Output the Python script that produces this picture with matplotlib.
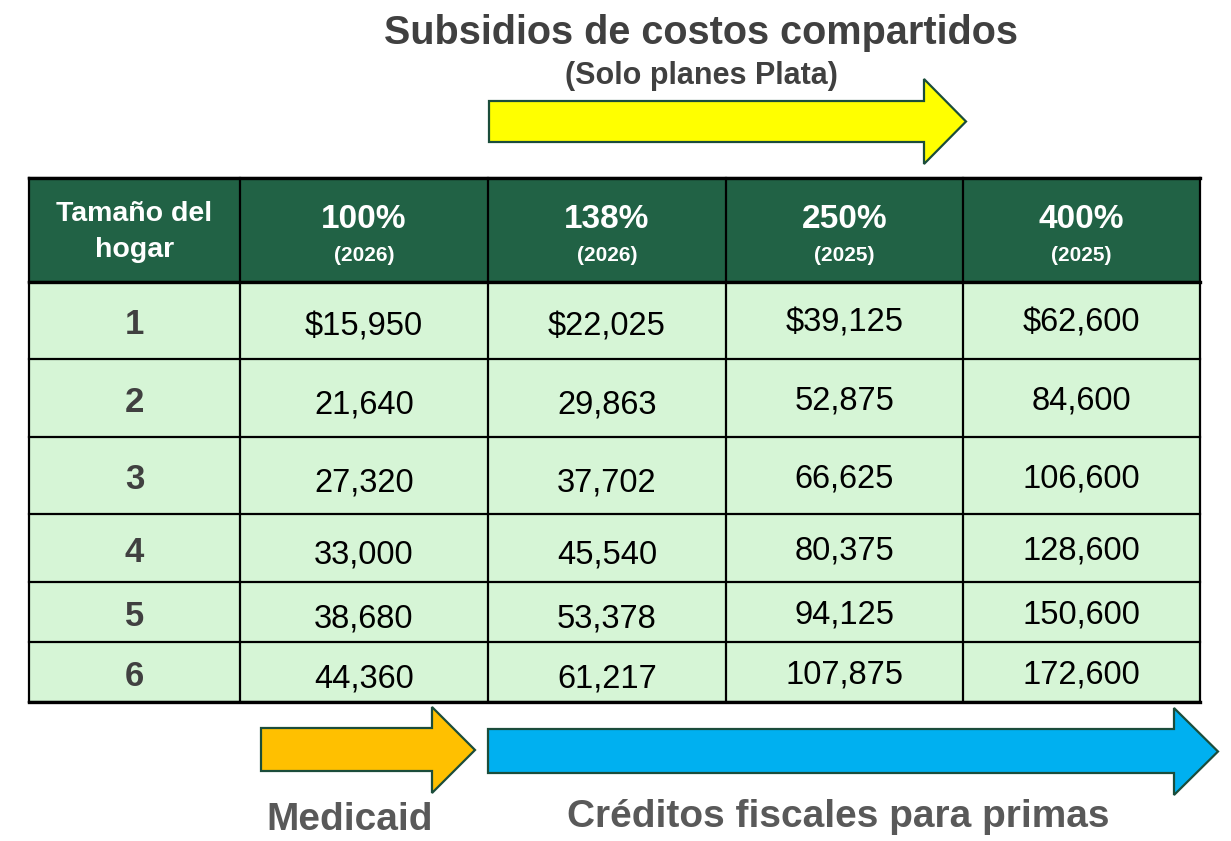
import matplotlib
matplotlib.use("Agg")
import matplotlib.pyplot as plt
from matplotlib.patches import Rectangle, Polygon

plt.rcParams['font.family'] = ['Liberation Sans', 'DejaVu Sans']

# datos ----------------------------------------------------------------
titulo = "Subsidios de costos compartidos"
subtitulo = "(Solo planes Plata)"
col0 = ["Tamaño del", "hogar"]
pct = ["100%", "138%", "250%", "400%"]
anios = ["(2026)", "(2026)", "(2025)", "(2025)"]
hogar = [1, 2, 3, 4, 5, 6]
fpl_100 = [15950, 21640, 27320, 33000, 38680, 44360]
fpl_138 = [22025, 29863, 37702, 45540, 53378, 61217]
fpl_250 = [39125, 52875, 66625, 80375, 94125, 107875]
fpl_400 = [62600, 84600, 106600, 128600, 150600, 172600]
etiq_medicaid = "Medicaid"
etiq_creditos = "Créditos fiscales para primas"

# colores
verde = '#216245'
verde_claro = '#d6f5d6'
gris = '#404040'
borde = '#1b4d3b'

W, H = 1231, 841
fig = plt.figure(figsize=(W / 100, H / 100), dpi=100)
ax = fig.add_axes([0, 0, 1, 1])
ax.set_xlim(0, W)
ax.set_ylim(H, 0)
ax.axis('off')

# geometria de la tabla (pixeles)
xs = [29, 240, 488, 726, 963, 1200]
ys = [178, 282, 359, 437, 514, 582, 642, 702]
dy_col = [4, 7, 7, 3, 3]

# encabezado y cuerpo
ax.add_patch(Rectangle((xs[0], ys[0]), xs[-1] - xs[0], ys[1] - ys[0],
                       facecolor=verde, edgecolor='none'))
ax.add_patch(Rectangle((xs[0], ys[1]), xs[-1] - xs[0], ys[-1] - ys[1],
                       facecolor=verde_claro, edgecolor='none'))

for x in xs:
    ax.plot([x, x], [ys[0], ys[-1]], color='black', lw=1.6)
for y in ys:
    ax.plot([xs[0], xs[-1]], [y, y], color='black', lw=1.6)
for y in (ys[0], ys[1], ys[-1]):
    ax.plot([xs[0], xs[-1]], [y, y], color='black', lw=2.4)

ax.text((xs[0] + xs[1]) / 2, 214, col0[0], color='white',
        fontsize=20.5, fontweight='bold', ha='center', va='center')
ax.text((xs[0] + xs[1]) / 2, 250, col0[1], color='white',
        fontsize=20.5, fontweight='bold', ha='center', va='center')
for i in range(4):
    cx = (xs[i + 1] + xs[i + 2]) / 2
    ax.text(cx, 219, pct[i], color='white', fontsize=24, fontweight='bold',
            ha='center', va='center')
    ax.text(cx, 255, anios[i], color='white', fontsize=15, fontweight='bold',
            ha='center', va='center')

columnas = [fpl_100, fpl_138, fpl_250, fpl_400]
for r in range(len(hogar)):
    cy = (ys[r + 1] + ys[r + 2]) / 2
    ax.text((xs[0] + xs[1]) / 2, cy + dy_col[0], str(hogar[r]), color=gris,
            fontsize=25, fontweight='bold', ha='center', va='center')
    for c in range(4):
        v = columnas[c][r]
        txt = ("${:,}" if r == 0 else "{:,}").format(v)
        ax.text((xs[c + 1] + xs[c + 2]) / 2, cy + dy_col[c + 1], txt,
                color='black', fontsize=23.5, ha='center', va='center')


def flecha(x0, x1, xt, yb0, yb1, yh0, yh1, color):
    ym = (yh0 + yh1) / 2
    pts = [(x0, yb0), (x1, yb0), (x1, yh0), (xt, ym), (x1, yh1),
           (x1, yb1), (x0, yb1)]
    ax.add_patch(Polygon(pts, closed=True, facecolor=color,
                         edgecolor=borde, lw=1.6, joinstyle='miter'))


flecha(489, 924, 966, 101, 142, 79, 164, '#ffff00')
flecha(261, 432, 475, 728, 771, 707, 793, '#ffc000')
flecha(488, 1174, 1218, 729, 773, 708, 795, '#00b0f0')

# textos
ax.text(701, 33, titulo, color=gris, fontsize=28.5, fontweight='bold',
        ha='center', va='center')
ax.text(701, 76, subtitulo, color=gris, fontsize=22, fontweight='bold',
        ha='center', va='center')
ax.text(350, 820, etiq_medicaid, color='#595959', fontsize=28,
        fontweight='bold', ha='center', va='center')
ax.text(838, 817, etiq_creditos, color='#595959', fontsize=28,
        fontweight='bold', ha='center', va='center')

fig.savefig("out.png", dpi=100)
